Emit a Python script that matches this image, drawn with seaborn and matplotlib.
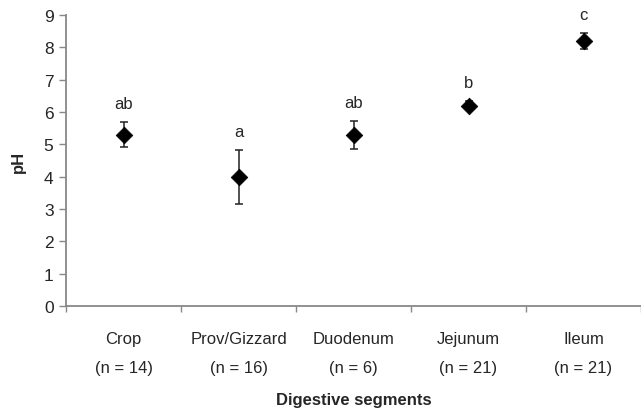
import numpy as np
import pandas as pd
import matplotlib
matplotlib.use('Agg')
import matplotlib.pyplot as plt
import seaborn as sns

segments = ['Crop', 'Prov/Gizzard', 'Duodenum', 'Jejunum', 'Ileum']
n_counts = [14, 16, 6, 21, 21]
ph_mean = [5.3, 4.0, 5.3, 6.2, 8.2]
ph_err = [0.38, 0.84, 0.43, 0.15, 0.25]
letters = ['ab', 'a', 'ab', 'b', 'c']

df = pd.DataFrame({'pos': np.arange(len(segments)), 'pH': ph_mean, 'err': ph_err})

sns.set_style('white')
plt.rcParams['font.family'] = ['Liberation Sans', 'DejaVu Sans']

fig = plt.figure(figsize=(6.41, 4.10), dpi=100)
ax = fig.add_axes([0.103, 0.251, 0.897, 0.710])

# error bars first, diamonds on top
ax.errorbar(df['pos'], df['pH'], yerr=df['err'], fmt='none', ecolor='#222222',
            elinewidth=1.1, capsize=3, capthick=1.1, zorder=2)
sns.scatterplot(data=df, x='pos', y='pH', marker='D', s=72, color='black',
                edgecolor='black', linewidth=0.5, ax=ax, zorder=3)

# significance letters just above each error bar
for i, (m, e, lab) in enumerate(zip(ph_mean, ph_err, letters)):
    ax.annotate(lab, (i, m + e), xytext=(0, 10), textcoords='offset points',
                ha='center', va='baseline', fontsize=12)

ax.set_xlim(-0.5, 4.5)
ax.set_ylim(0, 9)
ax.set_yticks(range(0, 10))

# ticks on the category boundaries, labels at the centres
ax.set_xticks(np.arange(-0.5, 5, 1))
ax.set_xticklabels([])
ax.set_xticks(df['pos'], minor=True)
ax.set_xticklabels([f'{s}\n(n = {n})' for s, n in zip(segments, n_counts)],
                   minor=True, fontsize=12, linespacing=2.15)
ax.tick_params(axis='x', which='minor', length=0, pad=18)
ax.tick_params(axis='x', which='major', direction='out', length=4, color='#888888', width=1)
ax.tick_params(axis='y', direction='out', length=5, color='#888888', width=1,
               labelsize=12.5, pad=4)
ax.xaxis.set_ticks_position('bottom')
ax.yaxis.set_ticks_position('left')

for side in ['top', 'right']:
    ax.spines[side].set_visible(False)
for side in ['left', 'bottom']:
    ax.spines[side].set_color('#888888')
    ax.spines[side].set_linewidth(1.3)

ax.set_xlabel('Digestive segments', fontsize=12, fontweight='bold', labelpad=12.5)
ax.set_ylabel('pH', fontsize=12, fontweight='bold', labelpad=13)

fig.savefig('out.png', dpi=100)
